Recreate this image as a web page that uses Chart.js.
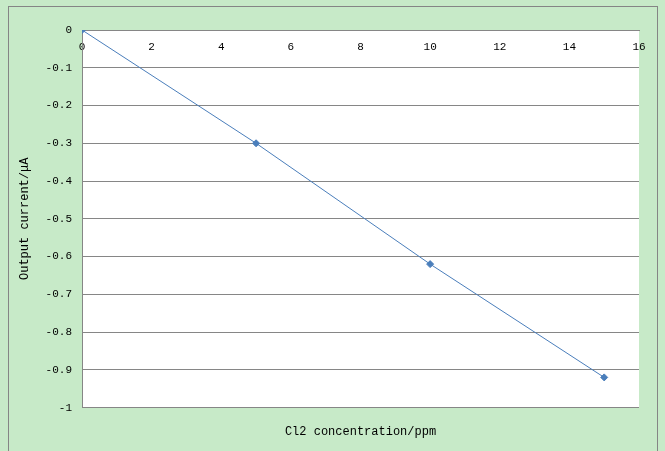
<!DOCTYPE html>
<html lang="en">
<head>
    <meta charset="UTF-8">
    <title>Output current vs Cl2 concentration</title>
    <script src="https://cdn.jsdelivr.net/npm/chart.js"></script>
</head>
<body style="margin: 0; background: #c7eac8;">
    <div style="width: 665px; height: 451px; position: relative;">
        <canvas id="chart"></canvas>
    </div>

    <script>
        // Data
        const concentration = [0, 5, 10, 15];
        const current = [0, -0.3, -0.62, -0.92];
        const xTicks = [0, 2, 4, 6, 8, 10, 12, 14, 16];
        const yTicks = [0, -0.1, -0.2, -0.3, -0.4, -0.5, -0.6, -0.7, -0.8, -0.9, -1];

        const xTitle = 'Cl2 concentration/ppm';
        const yTitle = 'Output current/\u03bcA';

        const tickFont = { family: 'Liberation Mono', size: 11 };
        const titleFont = { family: 'Liberation Mono', size: 12 };

        // green background, grey frame and white plot area
        const framePlugin = {
            id: 'frame',
            beforeDraw(chart) {
                const ctx = chart.ctx;
                const a = chart.chartArea;
                ctx.save();
                ctx.fillStyle = '#c7eac8';
                ctx.fillRect(0, 0, chart.width, chart.height);
                ctx.strokeStyle = '#858585';
                ctx.lineWidth = 1;
                ctx.strokeRect(8.5, 6.5, chart.width - 16, chart.height + 10);
                ctx.fillStyle = '#ffffff';
                ctx.fillRect(a.left, a.top, a.right - a.left, a.bottom - a.top);
                ctx.restore();
            }
        };

        new Chart(document.getElementById('chart'), {
            type: 'scatter',
            data: {
                datasets: [{
                    data: concentration.map((x, i) => ({ x: x, y: current[i] })),
                    showLine: true,
                    borderColor: '#4a7ebb',
                    borderWidth: 1,
                    backgroundColor: '#4a7ebb',
                    pointStyle: 'rectRot',
                    pointRadius: 3.5,
                    pointHoverRadius: 3.5
                }]
            },
            options: {
                responsive: true,
                maintainAspectRatio: false,
                animation: false,
                layout: {
                    padding: { left: 0, top: 30, right: 26, bottom: 0 }
                },
                plugins: {
                    legend: { display: false },
                    tooltip: { enabled: false },
                    title: {
                        display: true,
                        text: xTitle,
                        position: 'bottom',
                        fullSize: false,
                        color: '#000000',
                        font: { family: 'Liberation Mono', size: 12, weight: 'normal' },
                        padding: { top: 17, bottom: 12 }
                    }
                },
                scales: {
                    x: {
                        type: 'linear',
                        position: { y: 0 },
                        min: 0,
                        max: 16,
                        afterBuildTicks: (scale) => {
                            scale.ticks = xTicks.map(v => ({ value: v }));
                        },
                        grid: { display: false, drawTicks: false },
                        border: { display: true, color: '#868686', width: 1 },
                        ticks: {
                            color: '#000000',
                            font: tickFont,
                            padding: 10,
                            maxRotation: 0
                        }
                    },
                    y: {
                        min: -1,
                        max: 0,
                        afterBuildTicks: (scale) => {
                            scale.ticks = yTicks.map(v => ({ value: v }));
                        },
                        afterFit: (scale) => {
                            scale.width = 82;
                        },
                        grid: { color: '#868686', drawTicks: false },
                        border: { display: true, color: '#868686', width: 1 },
                        ticks: {
                            color: '#000000',
                            font: tickFont,
                            padding: 10,
                            callback: (v) => String(Math.round(v * 10) / 10)
                        },
                        title: {
                            display: true,
                            text: yTitle,
                            color: '#000000',
                            font: titleFont,
                            padding: { top: 18, bottom: 0 }
                        }
                    }
                }
            },
            plugins: [framePlugin]
        });
    </script>
</body>
</html>
